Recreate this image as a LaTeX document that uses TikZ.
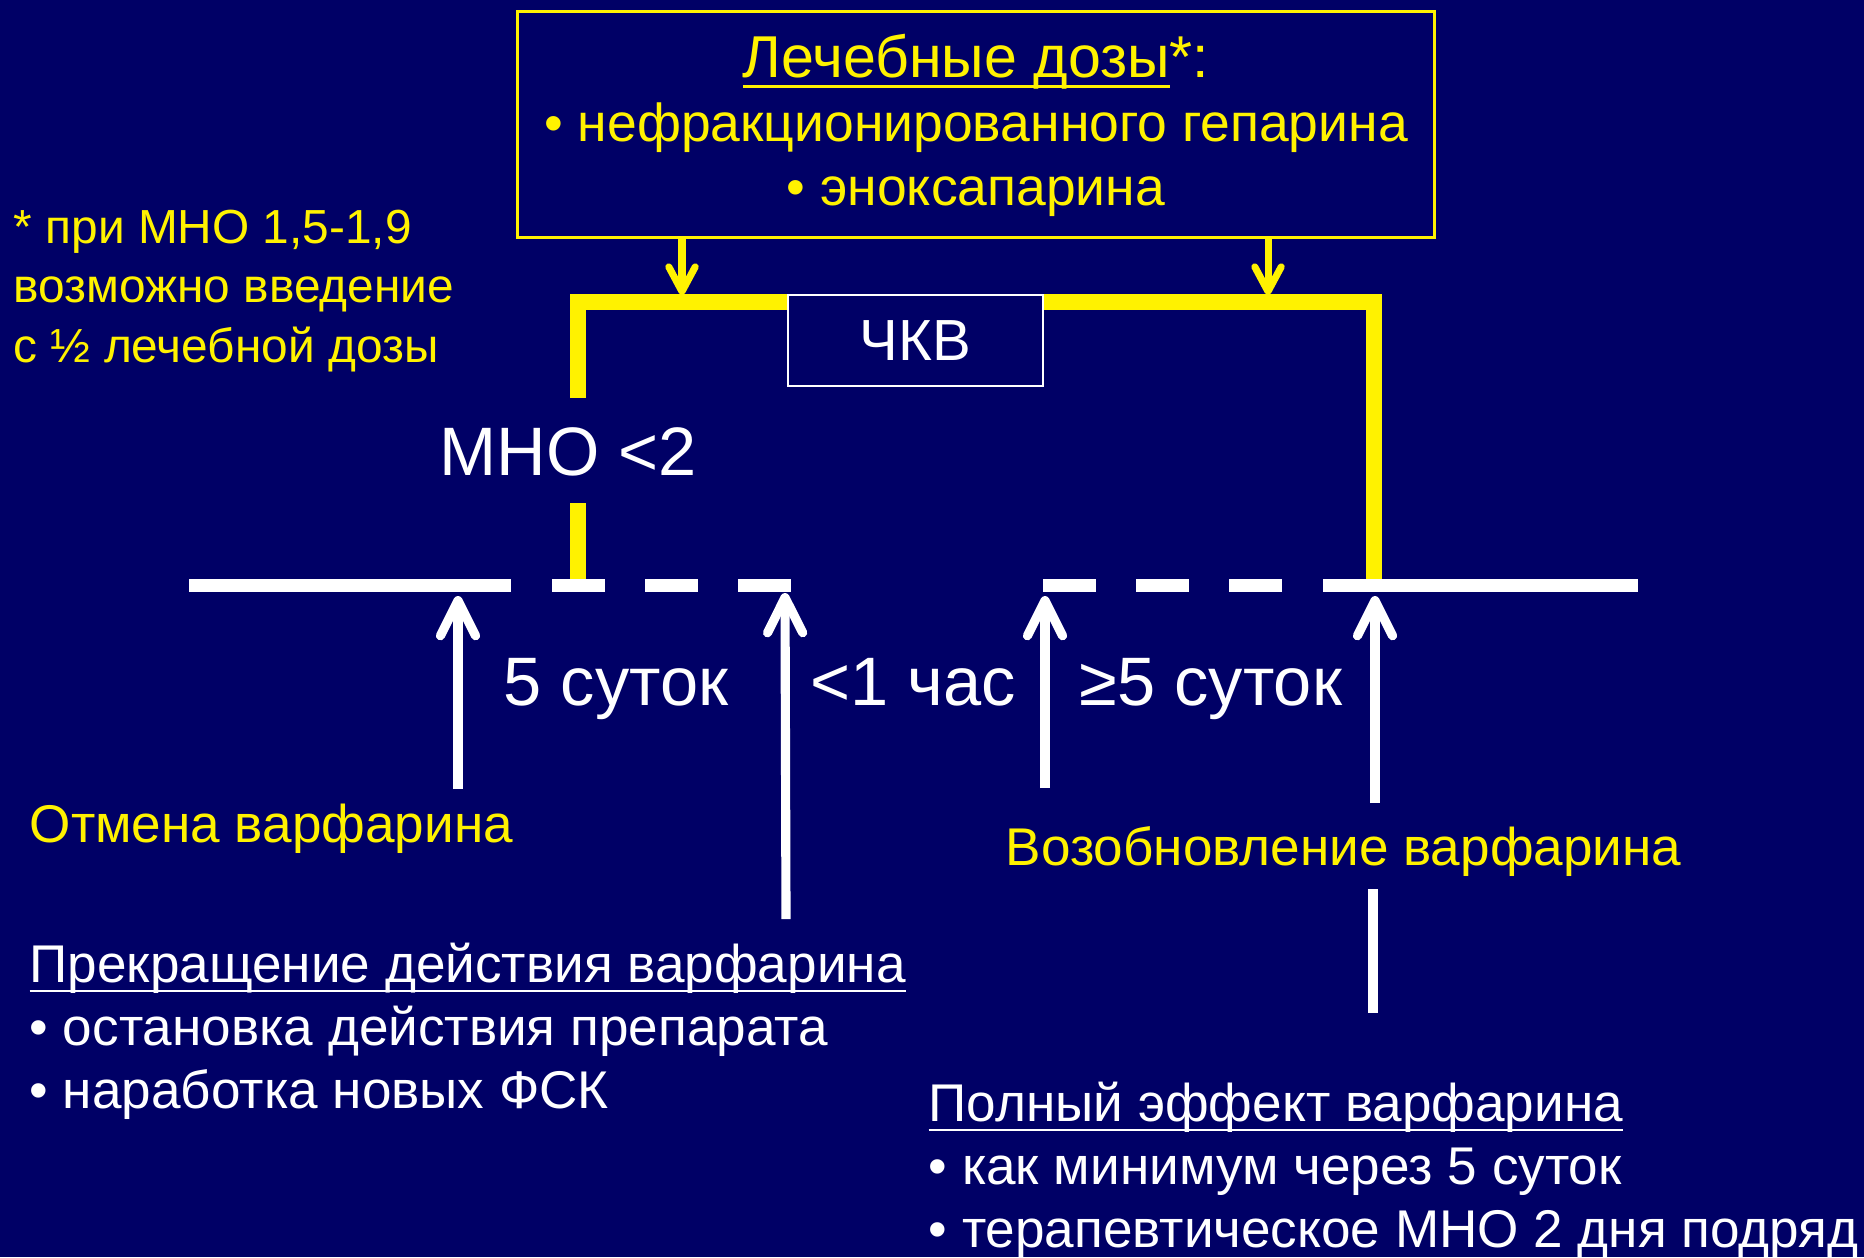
\documentclass[tikz,border=0pt]{standalone}
\usepackage{fontspec}
\setmainfont{Liberation Sans}
\usepackage{tikz}
\usetikzlibrary{arrows.meta}
\definecolor{navy}{RGB}{0,0,102}
% underline at a fixed depth
\newsavebox\ulbox
\newcommand{\ulin}[1]{\sbox\ulbox{#1}\rlap{\rule[-2.9pt]{\wd\ulbox}{0.8pt}}\usebox\ulbox}

\begin{document}
\begin{tikzpicture}[x=0.01cm, y=-0.01cm,
    every node/.style={inner sep=0pt},
    yline/.style={yellow, line width=4.3pt},
    tline/.style={white, line width=3.7pt},
    warrow/.style={white, line width=2.6pt, -{Straight Barb[length=10pt, width=10pt, round]}},
    yarrow/.style={yellow, line width=2pt, -{Straight Barb[length=7pt, width=7.5pt, round]}},
    bigtxt/.style={text=white, font=\fontsize{19.5}{23}\selectfont},
    ytxt/.style={text=yellow, font=\fontsize{15.1}{17.9}\selectfont},
    wtxt/.style={text=white, font=\fontsize{15.1}{17.9}\selectfont},
    note/.style={text=yellow, font=\fontsize{13.6}{16.8}\selectfont},
    dosebox/.style={draw=yellow, line width=0.85pt,
        minimum width=9.16cm, minimum height=2.25cm},
    dosetxt/.style={text=yellow, align=center, font=\fontsize{15.2}{18.07}\selectfont},
    ckvbox/.style={draw=white, line width=0.6pt, fill=navy, text=white,
        minimum width=2.55cm, minimum height=0.91cm, font=\fontsize{16.5}{20}\selectfont}]

    % Background
    \useasboundingbox (0,0) rectangle (1864,1257);
    \fill[navy] (0,0) rectangle (1864,1257);

    % Doses box
    \node[dosebox] (doses) at (976,124.5) {};
    \node[dosetxt, anchor=base] (dosetext) at (976,205) {{\fontsize{16.8}{18.07}\selectfont\ulin{Лечебные дозы}*:}\\ • нефракционированного гепарина\\ • эноксапарина};

    % Bracket
    \coordinate (kl) at (578,302);
    \coordinate (kr) at (1374,302);
    \coordinate (mnotop) at (578,398);
    \coordinate (mnobot) at (578,503);
    \coordinate (tl) at (578,580);
    \coordinate (tr) at (1374,582);
    \draw[yline] (mnotop)--(kl)--(kr)--(tr);
    \draw[yline] (mnobot)--(tl);

    % Dose arrows
    \coordinate (dl) at (682,295);
    \coordinate (dr) at (1268,295);
    \draw[yarrow] (doses.south -| dl)--(dl);
    \draw[yarrow] (doses.south -| dr)--(dr);

    \node[ckvbox] (ckv) at (915.5,340.5) {ЧКВ};
    \node[bigtxt, anchor=base] (mno) at (568,475) {МНО <2};

    % Timeline
    \draw[tline] (189,585)--(511,585);
    \foreach \a in {552,645,738,1043,1136,1229} \draw[tline] (\a,585)--++(53,0);
    \draw[tline] (1323,585)--(1638,585);

    % Arrows to the timeline
    \coordinate (stop-b) at (458,789);   \coordinate (stop-t) at (458,596);
    \coordinate (cease-b) at (786,919);  \coordinate (cease-t) at (785,593);
    \coordinate (pci-b) at (1045,788);   \coordinate (pci-t) at (1045,596);
    \coordinate (resume-b) at (1375,803); \coordinate (resume-t) at (1375,596);
    \foreach \n in {stop,cease,pci,resume} \draw[warrow] (\n-b)--(\n-t);
    \coordinate (full-t) at (1373,889);
    \coordinate (full-b) at (1373,1013);
    \draw[white, line width=2.6pt] (full-t)--(full-b);

    % Intervals
    \node[bigtxt, anchor=base] (days5) at (616,705) {5 суток};
    \node[bigtxt, anchor=base] (hour1) at (913,705) {<1 час};
    \node[bigtxt, anchor=base] (days5b) at (1211,705) {≥5 суток};

    % Labels (base = last line)
    \node[ytxt, anchor=base west] (stoplbl) at (29,842) {Отмена варфарина};
    \node[ytxt, anchor=base west] (resumelbl) at (1005,865) {Возобновление варфарина};
    \node[wtxt, anchor=base west, align=left] (cease) at (29,1108) {\ulin{Прекращение действия варфарина}\\ • остановка действия препарата\\ • наработка новых ФСК};
    \node[wtxt, anchor=base west, align=left] (full) at (928,1247) {\ulin{Полный эффект варфарина}\\ • как минимум через 5 суток\\ • терапевтическое МНО 2 дня подряд};
    \node[note, anchor=base west, align=left] (note) at (13,362) {* при МНО 1,5-1,9\\ возможно введение\\ с ½ лечебной дозы};
\end{tikzpicture}
\end{document}
